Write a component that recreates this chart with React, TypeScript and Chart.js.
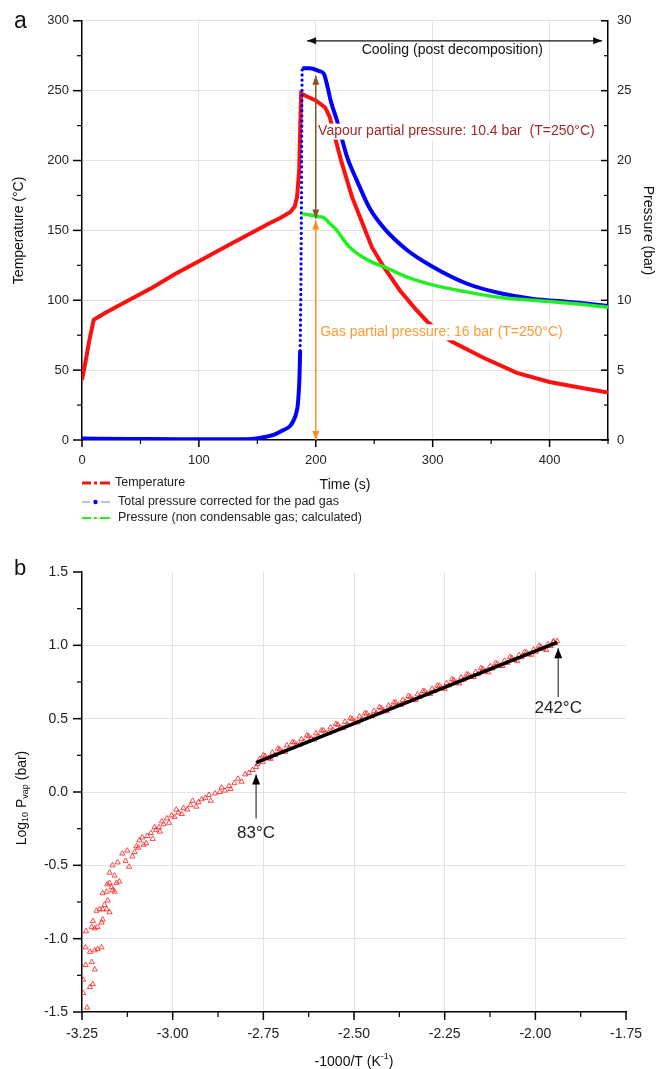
import React, { useEffect, useRef } from 'react';
import { Chart, registerables } from 'chart.js';

Chart.register(...registerables);

const FONT = "'Liberation Sans', Arial, Helvetica, sans-serif";
const GRID = '#e2e2e2';
const NONE = 'rgba(0,0,0,0)';

// ---------------- Panel a data ----------------
const temperatureTime = [0, 3, 6, 10, 20, 40, 60, 80, 100, 120, 140, 160, 170, 178, 182, 184, 185.8, 186.6, 187.5, 192, 200, 208, 212, 215, 222, 231, 240, 248, 258, 272, 285, 295, 315, 343, 372, 400, 429, 450];
const temperatureC = [43, 56, 70, 86, 91, 100, 109, 119, 128, 137, 146, 155, 159, 163, 167, 174, 193, 221, 248, 246, 243, 238, 231, 221, 199, 174, 155, 138, 124, 107, 94, 85, 71, 59, 48, 41.5, 37, 34];

const totalPressureTime = [0, 40, 80, 120, 140, 152, 165, 172, 178, 181, 183.5, 185, 186.6, 187.5, 188.4, 195, 203, 207, 210, 213, 218, 227, 235, 246, 258, 278, 300, 329, 358, 386, 415, 450];
const totalPressureBar = [0.1, 0.08, 0.05, 0.05, 0.05, 0.15, 0.4, 0.7, 1.0, 1.4, 2.0, 2.9, 6.4, 13.6, 26.6, 26.6, 26.4, 26.2, 25.3, 24.2, 22.9, 20.2, 18.6, 16.6, 15.2, 13.6, 12.4, 11.2, 10.5, 10.1, 9.9, 9.6];

const gasPressureTime = [188.4, 195, 202, 207, 212, 218, 224, 229, 240, 249, 258, 280, 300, 329, 358, 386, 415, 450];
const gasPressureBar = [16.2, 16.1, 16.0, 15.9, 15.5, 15.0, 14.3, 13.8, 13.1, 12.7, 12.4, 11.6, 11.1, 10.6, 10.2, 10.0, 9.8, 9.5];

const timeTickLabels = [0, 100, 200, 300, 400];
const temperatureTickLabels = [0, 50, 100, 150, 200, 250, 300];
const pressureTickLabels = [0, 5, 10, 15, 20, 25, 30];

// ---------------- Panel b data ----------------
const invTemperature = [
  -3.236, -3.247, -3.228, -3.220, -3.247, -3.240, -3.223, -3.215, -3.240, -3.228,
  -3.215, -3.207, -3.196, -3.239, -3.223, -3.215, -3.207, -3.196, -3.220, -3.193,
  -3.210, -3.201, -3.193, -3.182, -3.174, -3.179, -3.188, -3.193, -3.182, -3.180,
  -3.168, -3.166, -3.174, -3.160, -3.174, -3.160, -3.155, -3.147, -3.166, -3.152,
  -3.139, -3.130, -3.125, -3.120, -3.111, -3.105, -3.100, -3.095, -3.092, -3.084,
  -3.080, -3.073, -3.070, -3.060, -3.055, -3.050, -3.046, -3.038, -3.035, -3.030,
  -3.025, -3.016, -3.010, -3.003, -2.995, -2.990, -2.984, -2.975, -2.970, -2.960,
  -2.951, -2.945, -2.935, -2.929, -2.920, -2.910, -2.900, -2.895, -2.883, -2.870,
  -2.865, -2.856, -2.845, -2.840, -2.830, -2.820, -2.810, -2.800, -2.790, -2.780,
  -2.770, -2.766,
  -2.760, -2.752, -2.745, -2.735, -2.725, -2.718, -2.705, -2.698, -2.685, -2.678,
  -2.665, -2.658, -2.645, -2.638, -2.625, -2.618, -2.605, -2.598, -2.585, -2.578,
  -2.565, -2.558, -2.545, -2.538, -2.525, -2.518, -2.505, -2.498, -2.485, -2.478,
  -2.465, -2.458, -2.445, -2.438, -2.425, -2.418, -2.405, -2.398, -2.385, -2.378,
  -2.365, -2.358, -2.345, -2.338, -2.325, -2.318, -2.305, -2.298, -2.285, -2.278,
  -2.265, -2.258, -2.245, -2.238, -2.225, -2.218, -2.205, -2.198, -2.185, -2.178,
  -2.165, -2.158, -2.145, -2.138, -2.125, -2.118, -2.105, -2.098, -2.085, -2.078,
  -2.065, -2.058, -2.045, -2.038, -2.025, -2.018, -2.005, -1.998, -1.985, -1.978,
  -1.965, -1.958, -1.950, -1.945, -1.940,
  -2.750, -2.730, -2.710, -2.690, -2.670, -2.650, -2.630, -2.610, -2.590, -2.570,
  -2.550, -2.530, -2.510, -2.490, -2.470, -2.450, -2.430, -2.410, -2.390, -2.370,
  -2.350, -2.330, -2.310, -2.290, -2.270, -2.250, -2.230, -2.210, -2.190, -2.170,
  -2.150, -2.130, -2.110, -2.090, -2.070, -2.050, -2.030, -2.010, -1.990, -1.970,
  -1.950
];
const logVapourPressure = [
  -1.47, -1.37, -1.33, -1.31, -1.28, -1.18, -1.16, -1.21, -1.06, -1.09,
  -1.08, -1.07, -1.06, -0.95, -0.92, -0.93, -0.92, -0.89, -0.88, -0.87,
  -0.81, -0.80, -0.80, -0.80, -0.82, -0.74, -0.77, -0.69, -0.68, -0.63,
  -0.65, -0.67, -0.62, -0.68, -0.55, -0.57, -0.62, -0.61, -0.50, -0.48,
  -0.42, -0.47, -0.40, -0.51, -0.44, -0.41, -0.37, -0.38, -0.33, -0.31,
  -0.36, -0.35, -0.30, -0.28, -0.32, -0.24, -0.26, -0.24, -0.27, -0.20,
  -0.22, -0.18, -0.21, -0.16, -0.17, -0.12, -0.14, -0.15, -0.11, -0.12,
  -0.09, -0.06, -0.10, -0.07, -0.05, -0.04, -0.02, -0.06, -0.01, 0.00,
  0.03, 0.01, 0.04, 0.02, 0.06, 0.09, 0.07, 0.12, 0.13, 0.15,
  0.17, 0.19,
  0.225, 0.205, 0.245, 0.232, 0.268, 0.252, 0.290, 0.275, 0.318, 0.300,
  0.338, 0.322, 0.360, 0.343, 0.380, 0.365, 0.400, 0.382, 0.420, 0.402,
  0.440, 0.422, 0.458, 0.440, 0.478, 0.460, 0.497, 0.480, 0.515, 0.498,
  0.535, 0.518, 0.553, 0.537, 0.572, 0.556, 0.590, 0.575, 0.610, 0.594,
  0.628, 0.613, 0.648, 0.632, 0.666, 0.651, 0.686, 0.670, 0.704, 0.689,
  0.724, 0.708, 0.742, 0.727, 0.762, 0.746, 0.780, 0.766, 0.800, 0.785,
  0.818, 0.804, 0.838, 0.823, 0.857, 0.842, 0.876, 0.861, 0.895, 0.880,
  0.914, 0.900, 0.933, 0.919, 0.952, 0.938, 0.971, 0.957, 0.990, 0.976,
  1.008, 0.995, 1.022, 1.015, 1.030,
  0.250, 0.226, 0.296, 0.274, 0.340, 0.323, 0.385, 0.357, 0.419, 0.403,
  0.464, 0.436, 0.503, 0.474, 0.536, 0.518, 0.579, 0.550, 0.611, 0.594,
  0.655, 0.626, 0.688, 0.669, 0.725, 0.703, 0.769, 0.740, 0.801, 0.784,
  0.845, 0.816, 0.878, 0.859, 0.921, 0.892, 0.954, 0.936, 0.996, 0.968,
  1.028
];
const fitX = [-2.77, -1.94];
const fitY = [0.2, 1.02];

const invTTickLabels = [-3.25, -3.0, -2.75, -2.5, -2.25, -2.0, -1.75];
const logPTickLabels = [-1.5, -1.0, -0.5, 0.0, 0.5, 1.0, 1.5];

// ---------------- helpers ----------------
const pairs = (xs: number[], ys: number[]) => xs.map((x, i) => ({ x, y: ys[i] }));
const isIn = (arr: number[], v: any) => typeof v === 'number' && arr.some((a) => Math.abs(a - v) < 1e-9);

function drawTickMarks(chart: any, id: string, majors: number[], majorLen: number, minorLen: number, dir: number) {
  const s = chart.scales[id];
  const ctx = chart.ctx;
  const area = chart.chartArea;
  ctx.save();
  ctx.strokeStyle = '#000';
  s.ticks.forEach((t: any) => {
    const major = isIn(majors, t.value);
    const len = major ? majorLen : minorLen;
    ctx.lineWidth = major ? 1.5 : 1.2;
    const p = s.getPixelForValue(t.value);
    ctx.beginPath();
    if (s.isHorizontal()) {
      ctx.moveTo(p, area.bottom);
      ctx.lineTo(p, area.bottom + len * dir);
    } else if (s.position === 'left') {
      ctx.moveTo(area.left, p);
      ctx.lineTo(area.left - len * dir, p);
    } else {
      ctx.moveTo(area.right, p);
      ctx.lineTo(area.right + len * dir, p);
    }
    ctx.stroke();
  });
  ctx.restore();
}

function arrowHead(ctx: any, tipX: number, tipY: number, fromX: number, fromY: number, len: number, half: number, color: string) {
  const ang = Math.atan2(tipY - fromY, tipX - fromX);
  ctx.save();
  ctx.translate(tipX, tipY);
  ctx.rotate(ang);
  ctx.beginPath();
  ctx.moveTo(0, 0);
  ctx.lineTo(-len, -half);
  ctx.lineTo(-len, half);
  ctx.closePath();
  ctx.fillStyle = color;
  ctx.fill();
  ctx.restore();
}

function arrow(ctx: any, x1: number, y1: number, x2: number, y2: number, color: string, width: number, len: number, half: number, both: boolean, headColor?: string) {
  ctx.save();
  ctx.strokeStyle = color;
  ctx.lineWidth = width;
  ctx.beginPath();
  ctx.moveTo(x1, y1);
  ctx.lineTo(x2, y2);
  ctx.stroke();
  arrowHead(ctx, x2, y2, x1, y1, len, half, headColor || color);
  if (both) arrowHead(ctx, x1, y1, x2, y2, len, half, headColor || color);
  ctx.restore();
}

function label(ctx: any, text: string, x: number, y: number, size: number, color: string, align: string, bg: boolean) {
  ctx.save();
  ctx.font = `${size}px ${FONT}`;
  const w = ctx.measureText(text).width;
  const left = align === 'center' ? x - w / 2 : x;
  if (bg) {
    ctx.fillStyle = '#fff';
    ctx.fillRect(left - 1, y - size / 2 - 1, w + 2, size + 2);
  }
  ctx.fillStyle = color;
  ctx.textAlign = 'left';
  ctx.textBaseline = 'middle';
  ctx.fillText(text, left, y);
  ctx.restore();
}

// ---------------- panel a plugin ----------------
const panelAPlugin = {
  id: 'panelA',
  afterDraw(chart: any) {
    const ctx = chart.ctx;
    const { x, y, y2 } = chart.scales;
    drawTickMarks(chart, 'x', timeTickLabels, 7, 4, 1);
    drawTickMarks(chart, 'y', temperatureTickLabels, 9, 5, 1);
    drawTickMarks(chart, 'y2', pressureTickLabels, 7, 4, -1);

    const cy = y.getPixelForValue(285.7);
    arrow(ctx, x.getPixelForValue(192.6), cy, x.getPixelForValue(445), cy, '#111', 1.2, 9, 3.5, true);
    label(ctx, 'Cooling (post decomposition)', x.getPixelForValue(316.8), y.getPixelForValue(279.3), 14, '#111', 'center', false);

    const ax = x.getPixelForValue(200);
    arrow(ctx, ax, y2.getPixelForValue(26.07), ax, y2.getPixelForValue(15.86), '#8b5220', 1.5, 9, 3.5, true);
    arrow(ctx, ax, y2.getPixelForValue(15.7), ax, y2.getPixelForValue(0), '#ff8c1a', 1.5, 9, 3.5, true);

    label(ctx, 'Vapour partial pressure: 10.4 bar  (T=250°C)', x.getPixelForValue(202), y.getPixelForValue(220.7), 14, '#a0282c', 'left', true);
    label(ctx, 'Gas partial pressure: 16 bar (T=250°C)', x.getPixelForValue(203.8), y.getPixelForValue(77.1), 14, '#ff9a33', 'left', true);

    label(ctx, 'a', 14, 22, 23, '#111', 'left', false);

    // legend
    ctx.save();
    ctx.lineCap = 'butt';
    ctx.strokeStyle = '#ff1010';
    ctx.lineWidth = 3;
    ctx.beginPath();
    ctx.moveTo(82, 483); ctx.lineTo(91, 483);
    ctx.moveTo(94, 483); ctx.lineTo(97, 483);
    ctx.moveTo(100, 483); ctx.lineTo(110, 483);
    ctx.stroke();
    ctx.strokeStyle = '#a8acff';
    ctx.lineWidth = 1.5;
    ctx.beginPath();
    ctx.moveTo(82, 502); ctx.lineTo(90, 502);
    ctx.moveTo(101, 502); ctx.lineTo(110, 502);
    ctx.stroke();
    ctx.fillStyle = '#0000ff';
    ctx.beginPath();
    ctx.arc(95.5, 502, 2.2, 0, Math.PI * 2);
    ctx.fill();
    ctx.strokeStyle = '#22ee22';
    ctx.lineWidth = 2.2;
    ctx.beginPath();
    ctx.moveTo(82, 518); ctx.lineTo(91, 518);
    ctx.moveTo(94, 518); ctx.lineTo(97, 518);
    ctx.moveTo(100, 518); ctx.lineTo(110, 518);
    ctx.stroke();
    ctx.restore();
    label(ctx, 'Temperature', 115, 483, 12.5, '#222', 'left', false);
    label(ctx, 'Total pressure corrected for the pad gas', 118, 502, 12.5, '#222', 'left', false);
    label(ctx, 'Pressure (non condensable gas; calculated)', 118, 518, 12.5, '#222', 'left', false);
  },
};

// ---------------- panel b plugin ----------------
function drawRich(ctx: any, parts: Array<[string, string]>, size: number, small: number) {
  let w = 0;
  parts.forEach(([t, kind]) => {
    ctx.font = `${kind === 'n' ? size : small}px ${FONT}`;
    w += ctx.measureText(t).width;
  });
  let x = -w / 2;
  parts.forEach(([t, kind]) => {
    ctx.font = `${kind === 'n' ? size : small}px ${FONT}`;
    const dy = kind === 'sub' ? 4 : kind === 'sup' ? -5 : 0;
    ctx.fillText(t, x, dy);
    x += ctx.measureText(t).width;
  });
}

const panelBPlugin = {
  id: 'panelB',
  afterDraw(chart: any) {
    const ctx = chart.ctx;
    const { x, y } = chart.scales;
    const area = chart.chartArea;
    drawTickMarks(chart, 'x', invTTickLabels, 8, 5, 1);
    drawTickMarks(chart, 'y', logPTickLabels, 9, 5, 1);

    const x83 = x.getPixelForValue(-2.77);
    arrow(ctx, x83, y.getPixelForValue(-0.18), x83, y.getPixelForValue(0.12), '#444', 1.3, 10, 4, false, '#000');
    label(ctx, '83°C', x83, y.getPixelForValue(-0.28), 17, '#222', 'center', false);
    const x242 = x.getPixelForValue(-1.937);
    arrow(ctx, x242, y.getPixelForValue(0.648), x242, y.getPixelForValue(0.98), '#444', 1.3, 10, 4, false, '#000');
    label(ctx, '242°C', x242, y.getPixelForValue(0.573), 17, '#222', 'center', false);

    label(ctx, 'b', 14, 39, 22, '#111', 'left', false);

    ctx.save();
    ctx.fillStyle = '#111';
    ctx.textAlign = 'left';
    ctx.textBaseline = 'middle';
    ctx.translate((area.left + area.right) / 2, 532);
    drawRich(ctx, [['-1000/T (K', 'n'], ['-1', 'sup'], [')', 'n']], 14, 9);
    ctx.restore();

    ctx.save();
    ctx.fillStyle = '#111';
    ctx.textAlign = 'left';
    ctx.textBaseline = 'middle';
    ctx.translate(22, (area.top + area.bottom) / 2 + 6);
    ctx.rotate(-Math.PI / 2);
    drawRich(ctx, [['Log', 'n'], ['10', 'sub'], [' P', 'n'], ['vap', 'sub'], [' (bar)', 'n']], 14, 9);
    ctx.restore();
  },
};

const tickFont = (size: number) => ({ family: FONT, size });

const steep = (c: any) => {
  const dx = Math.abs(c.p1.x - c.p0.x);
  const dy = Math.abs(c.p1.y - c.p0.y);
  return dy > 60 && dy > 12 * dx;
};

function buildConfigA(): any {
  return {
    type: 'scatter',
    data: {
      datasets: [
        {
          label: 'Pressure (non condensable gas; calculated)',
          data: pairs(gasPressureTime, gasPressureBar),
          yAxisID: 'y2',
          showLine: true,
          cubicInterpolationMode: 'monotone',
          borderColor: '#22ee22',
          borderWidth: 3.5,
          pointRadius: 0,
          order: 0,
        },
        {
          label: 'Total pressure corrected for the pad gas',
          data: pairs(totalPressureTime, totalPressureBar),
          yAxisID: 'y2',
          showLine: true,
          cubicInterpolationMode: 'monotone',
          borderColor: '#0000ff',
          borderWidth: 4,
          pointRadius: 0,
          order: 1,
          segment: {
            borderDash: (c: any) => (steep(c) ? [0.1, 5] : undefined),
            borderCapStyle: (c: any) => (steep(c) ? 'round' : undefined),
            borderWidth: (c: any) => (steep(c) ? 3.2 : undefined),
          },
        },
        {
          label: 'Temperature',
          data: pairs(temperatureTime, temperatureC),
          yAxisID: 'y',
          showLine: true,
          borderColor: '#ff1010',
          borderWidth: 4,
          pointRadius: 0,
          order: 2,
        },
      ],
    },
    options: {
      animation: false,
      responsive: false,
      devicePixelRatio: 1,
      layout: { padding: { top: 20, left: 0, right: 0, bottom: 0 } },
      plugins: { legend: { display: false }, tooltip: { enabled: false } },
      scales: {
        x: {
          type: 'linear',
          position: 'bottom',
          min: 0,
          max: 450,
          afterFit: (s: any) => { s.height = 90; },
          ticks: {
            stepSize: 50,
            autoSkip: false,
            maxRotation: 0,
            padding: 13,
            color: '#222',
            font: tickFont(13),
            callback: (v: any) => (isIn(timeTickLabels, v) ? String(v) : ''),
          },
          grid: {
            drawTicks: false,
            lineWidth: 1,
            color: (c: any) => (c.tick && isIn(timeTickLabels, c.tick.value) && c.tick.value !== 0 ? GRID : NONE),
          },
          border: { color: '#000', width: 1.5 },
          title: { display: true, text: 'Time (s)', color: '#111', font: { family: FONT, size: 14 }, padding: { top: 0, bottom: 36 } },
        },
        y: {
          type: 'linear',
          position: 'left',
          min: 0,
          max: 300,
          afterFit: (s: any) => { s.width = 82; },
          ticks: {
            stepSize: 25,
            autoSkip: false,
            padding: 13,
            color: '#222',
            font: tickFont(13),
            callback: (v: any) => (isIn(temperatureTickLabels, v) ? String(v) : ''),
          },
          grid: {
            drawTicks: false,
            lineWidth: 1,
            color: (c: any) => (c.tick && isIn(temperatureTickLabels, c.tick.value) && c.tick.value !== 0 ? GRID : NONE),
          },
          border: { color: '#000', width: 1.5 },
          title: { display: true, text: 'Temperature (°C)', color: '#111', font: { family: FONT, size: 14 }, padding: { top: 11, bottom: 0 } },
        },
        y2: {
          type: 'linear',
          position: 'right',
          min: 0,
          max: 30,
          afterFit: (s: any) => { s.width = 48; },
          ticks: {
            stepSize: 2.5,
            autoSkip: false,
            padding: 9,
            color: '#222',
            font: tickFont(13),
            callback: (v: any) => (isIn(pressureTickLabels, v) ? String(v) : ''),
          },
          grid: { drawTicks: false, color: NONE },
          border: { color: '#000', width: 1.5 },
          title: { display: true, text: 'Pressure (bar)', color: '#111', font: { family: FONT, size: 14 }, padding: { top: 0, bottom: 0 } },
        },
      },
    },
    plugins: [panelAPlugin],
  };
}

function buildConfigB(): any {
  return {
    type: 'scatter',
    data: {
      datasets: [
        {
          label: 'Linear fit',
          data: pairs(fitX, fitY),
          showLine: true,
          borderColor: '#000',
          borderWidth: 3.5,
          pointRadius: 0,
          order: 0,
        },
        {
          label: 'Log10 Pvap',
          data: pairs(invTemperature, logVapourPressure),
          showLine: false,
          pointStyle: 'triangle',
          pointRadius: 3,
          pointBorderWidth: 0.8,
          pointBorderColor: '#ff1a1a',
          pointBackgroundColor: NONE,
          borderColor: '#ff1a1a',
          backgroundColor: NONE,
          order: 1,
        },
      ],
    },
    options: {
      animation: false,
      responsive: false,
      devicePixelRatio: 1,
      layout: { padding: { top: 42, left: 0, right: 22, bottom: 0 } },
      plugins: { legend: { display: false }, tooltip: { enabled: false } },
      scales: {
        x: {
          type: 'linear',
          position: 'bottom',
          min: -3.25,
          max: -1.75,
          afterFit: (s: any) => { s.height = 57; },
          ticks: {
            stepSize: 0.125,
            autoSkip: false,
            maxRotation: 0,
            padding: 14,
            color: '#222',
            font: tickFont(14),
            callback: (v: any) => (isIn(invTTickLabels, v) ? Number(v).toFixed(2) : ''),
          },
          grid: {
            drawTicks: false,
            lineWidth: 1,
            color: (c: any) => (c.tick && isIn(invTTickLabels, c.tick.value) && c.tick.value > -3.2 && c.tick.value < -1.8 ? GRID : NONE),
          },
          border: { color: '#000', width: 1.5 },
          title: { display: false },
        },
        y: {
          type: 'linear',
          position: 'left',
          min: -1.5,
          max: 1.5,
          afterFit: (s: any) => { s.width = 82; },
          ticks: {
            stepSize: 0.25,
            autoSkip: false,
            padding: 14,
            color: '#222',
            font: tickFont(14),
            callback: (v: any) => (isIn(logPTickLabels, v) ? Number(v).toFixed(1) : ''),
          },
          grid: {
            drawTicks: false,
            lineWidth: 1,
            color: (c: any) => (c.tick && isIn(logPTickLabels, c.tick.value) && c.tick.value > -1.4 && c.tick.value < 1.4 ? GRID : NONE),
          },
          border: { color: '#000', width: 1.5 },
          title: { display: false },
        },
      },
    },
    plugins: [panelBPlugin],
  };
}

export default function App() {
  const refA = useRef<HTMLCanvasElement>(null);
  const refB = useRef<HTMLCanvasElement>(null);

  useEffect(() => {
    Chart.defaults.font.family = FONT;
    const a = new Chart(refA.current as HTMLCanvasElement, buildConfigA());
    const b = new Chart(refB.current as HTMLCanvasElement, buildConfigB());
    return () => {
      a.destroy();
      b.destroy();
    };
  }, []);

  return (
    <div style={{ position: 'absolute', left: 0, top: 0, width: 656, height: 1069, background: '#fff' }}>
      <canvas ref={refA} width={656} height={530} style={{ position: 'absolute', left: 0, top: 0, width: 656, height: 530, display: 'block' }} />
      <canvas ref={refB} width={656} height={539} style={{ position: 'absolute', left: 0, top: 530, width: 656, height: 539, display: 'block' }} />
    </div>
  );
}
